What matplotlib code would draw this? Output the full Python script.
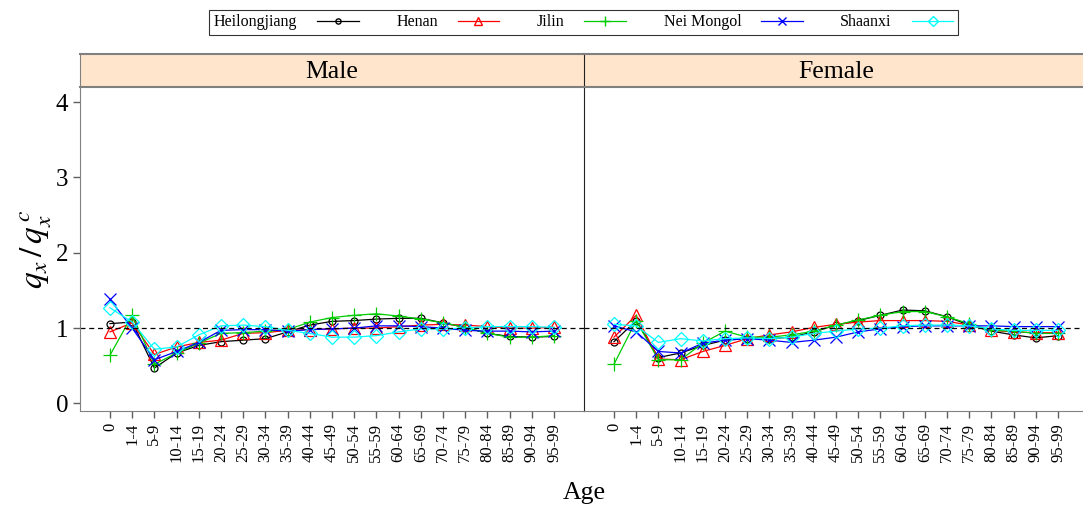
import numpy as np
import matplotlib
matplotlib.use('Agg')
import matplotlib.pyplot as plt
from matplotlib.lines import Line2D

plt.rcParams['font.family'] = ['Liberation Serif', 'DejaVu Serif']
plt.rcParams['mathtext.fontset'] = 'stix'

ages = ['0', '1-4', '5-9', '10-14', '15-19', '20-24', '25-29', '30-34', '35-39',
        '40-44', '45-49', '50-54', '55-59', '60-64', '65-69', '70-74', '75-79',
        '80-84', '85-89', '90-94', '95-99']
provinces = ['Heilongjiang', 'Henan', 'Jilin', 'Nei Mongol', 'Shaanxi']

# ratio of provincial to national death probability, by sex
male_heilongjiang = [1.06, 1.08, 0.47, 0.67, 0.77, 0.82, 0.84, 0.86, 0.95, 1.04, 1.09,
                     1.10, 1.12, 1.13, 1.13, 1.07, 1.01, 0.93, 0.89, 0.88, 0.89]
male_henan = [0.95, 1.07, 0.65, 0.75, 0.81, 0.84, 0.93, 0.94, 0.97, 0.98, 0.99,
              1.00, 1.00, 1.02, 1.04, 1.05, 1.04, 1.02, 1.00, 1.00, 1.01]
male_jilin = [0.64, 1.17, 0.52, 0.67, 0.80, 0.93, 0.94, 0.96, 0.98, 1.08, 1.14,
              1.17, 1.19, 1.16, 1.12, 1.07, 1.01, 0.93, 0.88, 0.88, 0.90]
male_neimongol = [1.38, 1.00, 0.58, 0.69, 0.81, 0.97, 0.98, 0.98, 0.96, 0.98, 0.99,
                  1.00, 1.03, 1.03, 1.02, 1.00, 0.97, 0.96, 0.96, 0.95, 0.96]
male_shaanxi = [1.27, 1.08, 0.72, 0.75, 0.91, 1.03, 1.04, 1.02, 0.97, 0.93, 0.88,
                0.88, 0.90, 0.95, 0.99, 0.99, 1.00, 1.02, 1.02, 1.02, 1.01]

female_heilongjiang = [0.82, 1.10, 0.61, 0.67, 0.77, 0.84, 0.86, 0.86, 0.88, 0.95, 1.04,
                       1.10, 1.17, 1.24, 1.23, 1.15, 1.04, 0.96, 0.91, 0.87, 0.90]
female_henan = [0.88, 1.17, 0.59, 0.58, 0.69, 0.77, 0.86, 0.91, 0.95, 1.01, 1.05,
                1.08, 1.10, 1.10, 1.10, 1.09, 1.04, 0.97, 0.95, 0.94, 0.94]
female_jilin = [0.52, 1.10, 0.58, 0.58, 0.80, 0.96, 0.88, 0.88, 0.91, 0.96, 1.04,
                1.11, 1.17, 1.22, 1.22, 1.15, 1.06, 0.97, 0.96, 0.93, 0.93]
female_neimongol = [1.03, 0.95, 0.69, 0.67, 0.80, 0.84, 0.86, 0.84, 0.81, 0.84, 0.88,
                    0.95, 0.99, 1.02, 1.03, 1.03, 1.03, 1.03, 1.02, 1.02, 1.02]
female_shaanxi = [1.05, 1.03, 0.81, 0.86, 0.83, 0.86, 0.87, 0.86, 0.88, 0.93, 0.96,
                  0.99, 1.00, 1.03, 1.04, 1.04, 1.03, 0.99, 0.97, 0.97, 0.97]

male = [male_heilongjiang, male_henan, male_jilin, male_neimongol, male_shaanxi]
female = [female_heilongjiang, female_henan, female_jilin, female_neimongol, female_shaanxi]

colors = ['black', 'red', '#00CD00', 'blue', 'cyan']
markers = ['o', '^', '+', 'x', 'D']
msizes = [5, 8, 10, 8, 7]

fig = plt.figure(figsize=(10.83, 5.09), dpi=100)

W, H = 1083.0, 509.0
panel_w = 504 / W
bottom = 1 - 411 / H
height = (411 - 87) / H
strip_h = 33 / H

x = np.arange(len(ages))

panels = [('Male', male, 80 / W), ('Female', female, 584 / W)]
for i, (title, series, left) in enumerate(panels):
    ax = fig.add_axes([left, bottom, panel_w, height])
    for vals, c, m, ms in zip(series, colors, markers, msizes):
        ax.plot(x, vals, color=c, marker=m, markersize=ms, markerfacecolor='none',
                markeredgecolor=c, linewidth=0.9, markeredgewidth=0.9)
    ax.axhline(1, color='black', linestyle=(0, (4, 3)), linewidth=0.9)
    ax.set_xlim(-1.35, 21.35)
    ax.set_ylim(-0.1, 4.2)
    ax.set_xticks(x)
    ax.set_xticklabels(ages, rotation=90, fontsize=12)
    for s in ['top', 'right']:
        ax.spines[s].set_visible(False)
    ax.spines['bottom'].set_color('#808080')
    ax.tick_params(axis='x', colors='#606060', labelcolor='black', length=5, width=1)
    if i == 0:
        ax.spines['left'].set_color('#808080')
        ax.set_yticks([0, 1, 2, 3, 4])
        ax.tick_params(axis='y', colors='#606060', labelcolor='black', length=5,
                       width=1, labelsize=18)
        ax.set_ylabel(r'$q_x\,/\,q_x^{\,c}$', fontsize=24, labelpad=1)
    else:
        ax.spines['left'].set_color('#222222')
        ax.set_yticks([])

    # strip header
    sax = fig.add_axes([left, bottom + height, panel_w, strip_h])
    sax.set_facecolor('#FFE5CC')
    sax.set_xticks([])
    sax.set_yticks([])
    for s in ['top', 'bottom']:
        sax.spines[s].set_color('#808080')
        sax.spines[s].set_linewidth(1.5)
    sax.spines['right'].set_visible(False)
    sax.spines['left'].set_color('#808080' if i == 0 else '#222222')
    sax.text(0.5, 0.45, title, transform=sax.transAxes, ha='center', va='center',
             fontsize=18.5)

fig.text(584 / W, 1 - 493 / H, 'Age', ha='center', va='center', fontsize=18.5)

handles = [Line2D([], [], color=c, marker=m, markersize=ms * 0.75, markerfacecolor='none',
                  markeredgecolor=c, linewidth=0.9)
           for c, m, ms in zip(colors, markers, msizes)]
leg = fig.legend(handles, provinces, loc='center', bbox_to_anchor=(583.5 / W, 1 - 22.5 / H),
                 ncol=5, markerfirst=False, fontsize=11.5, frameon=True, fancybox=False,
                 edgecolor='black', handlelength=2.6, columnspacing=2.35, handletextpad=1.25,
                 borderpad=0.3)
leg.get_frame().set_linewidth(0.8)

fig.savefig('out.png', dpi=100)
